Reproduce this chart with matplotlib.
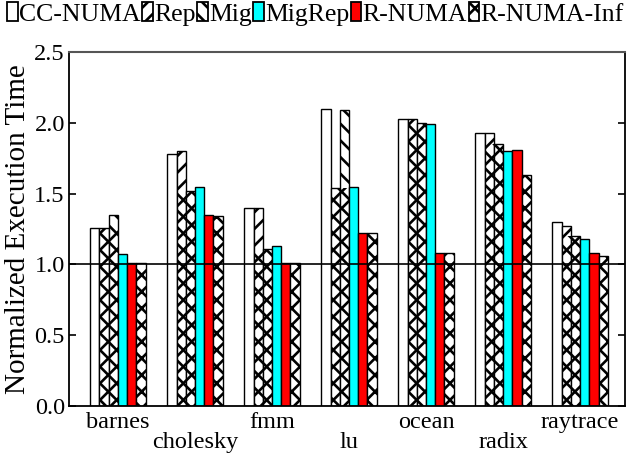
import matplotlib
matplotlib.use("Agg")
import matplotlib.pyplot as plt
import numpy as np
from matplotlib.patches import Patch

plt.rcParams['font.family'] = ['Liberation Serif', 'DejaVu Serif']
plt.rcParams['hatch.linewidth'] = 1.9

benchmarks = ['barnes', 'cholesky', 'fmm', 'lu', 'ocean', 'radix', 'raytrace']
series = ['CC-NUMA', 'Rep', 'Mig', 'MigRep', 'R-NUMA', 'R-NUMA-Inf']

cc_numa   = [1.26, 1.78, 1.40, 2.10, 2.03, 1.93, 1.30]
rep       = [1.26, 1.80, 1.40, 1.54, 2.03, 1.93, 1.27]
mig       = [1.35, 1.52, 1.11, 2.09, 2.00, 1.85, 1.20]
migrep    = [1.07, 1.55, 1.13, 1.55, 1.99, 1.80, 1.18]
r_numa    = [1.01, 1.35, 1.01, 1.22, 1.08, 1.81, 1.08]
r_numa_inf = [1.01, 1.34, 1.01, 1.22, 1.08, 1.63, 1.06]

values = [cc_numa, rep, mig, migrep, r_numa, r_numa_inf]
facecolors = ['white', 'white', 'white', '#00ffff', '#ff0000', 'white']
hatches = [None, '//', '\\\\', None, None, 'xx']
legend_hatches = [None, '//', '\\\\', None, None, 'xx']

fig = plt.figure(figsize=(6.31, 4.54), dpi=100)
ax = fig.add_axes([69/631, 1-406/454, 556/631, 354/454])

x = np.arange(len(benchmarks))
w = 0.12
for i, (vals, fc, h) in enumerate(zip(values, facecolors, hatches)):
    pos = x + (i - 2.5) * w
    ax.bar(pos, vals, width=w, color=fc, edgecolor='black', linewidth=1.0,
           hatch=h, zorder=2)

# overlap region of Rep and Mig shows the combined pattern
overlap = np.minimum(rep, mig)
ax.bar(x + (1 - 2.5) * w, overlap, width=w, facecolor='none', edgecolor='black',
       linewidth=0, hatch='\\\\', zorder=3)
ax.bar(x + (2 - 2.5) * w, overlap, width=w, facecolor='none', edgecolor='black',
       linewidth=0, hatch='//', zorder=3)

ax.axhline(1.0, color='black', linewidth=1.2, zorder=4)

ax.set_xlim(-0.636, 6.584)
ax.set_ylim(0, 2.5)
ax.set_yticks(np.arange(0, 2.51, 0.5))
ax.set_yticklabels([f'{v:.1f}' for v in np.arange(0, 2.51, 0.5)])
ax.set_xticks(x)
ax.set_xticklabels([b if k % 2 == 0 else '\n' + b for k, b in enumerate(benchmarks)],
                   linespacing=0.95)
ax.tick_params(axis='x', length=0, labelsize=17.5, pad=4)
ax.tick_params(axis='y', direction='in', length=5, width=1.2, labelsize=17.5,
               right=True, pad=3)
ax.set_ylabel('Normalized Execution Time', fontsize=21, labelpad=2)
for side in ['left', 'right', 'bottom']:
    ax.spines[side].set_linewidth(1.3)
ax.spines['top'].set_color('#555555')
ax.spines['top'].set_linewidth(1.5)

handles = [Patch(facecolor=fc, edgecolor='black', hatch=h, linewidth=1.3)
           for fc, h in zip(facecolors, legend_hatches)]
fig.legend(handles, series, loc='center', bbox_to_anchor=(0.5, 1 - 14/454), ncol=6,
           frameon=False, fontsize=18.5, handlelength=0.42, handleheight=0.75,
           handletextpad=0.05, columnspacing=0.05, borderaxespad=0, borderpad=0)

fig.savefig('out.png', dpi=100)
